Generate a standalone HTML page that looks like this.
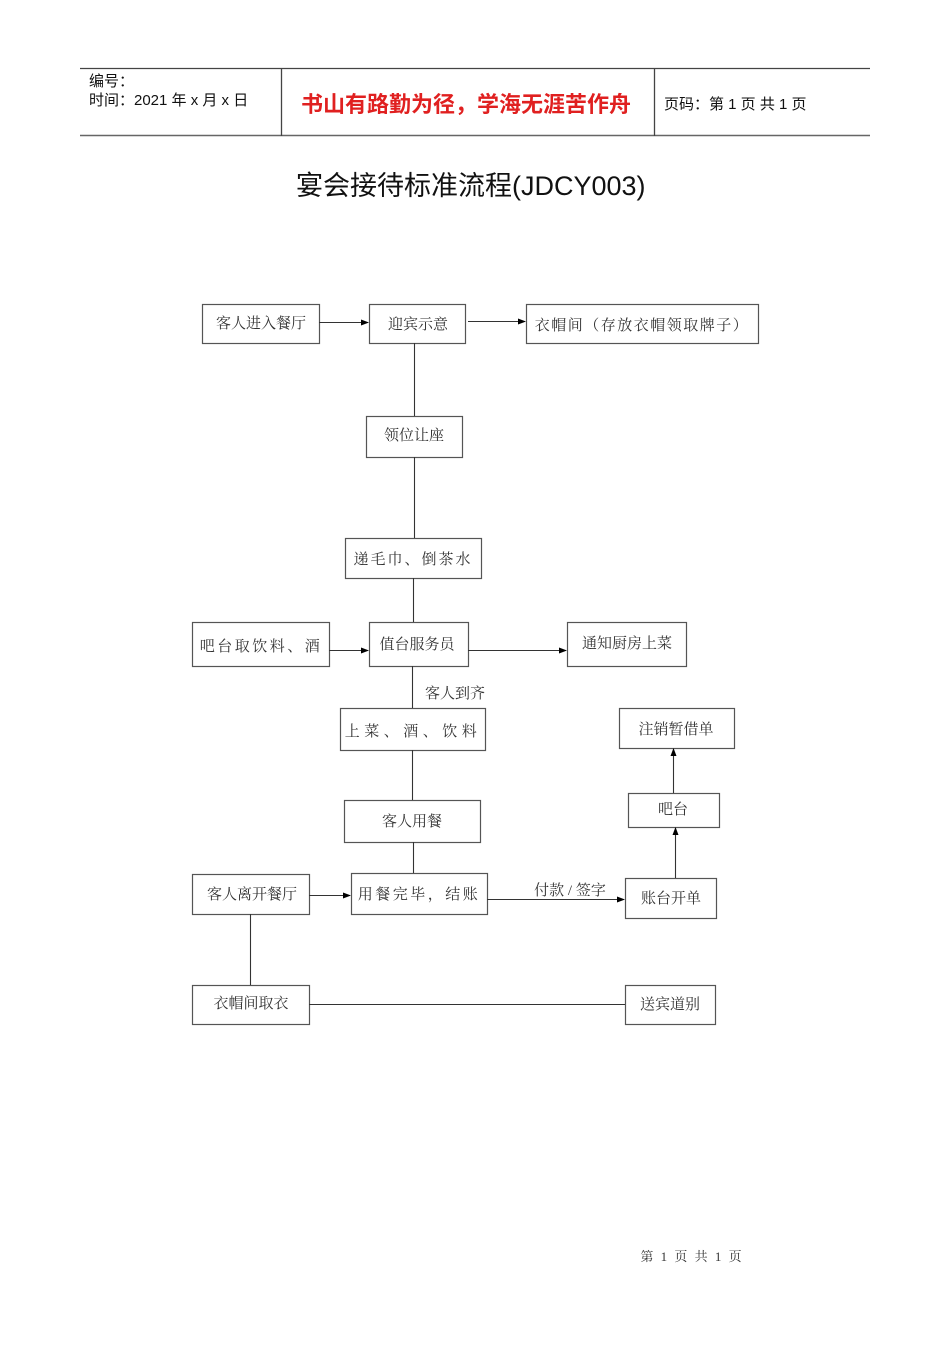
<!DOCTYPE html>
<html><head><meta charset="utf-8"><style>
body{margin:0;background:#fff;}
svg text{font-family:"Liberation Serif","Noto Serif CJK SC",serif;fill:#333;}
</style></head><body>
<svg width="950" height="1344" xmlns="http://www.w3.org/2000/svg">
<defs><marker id="a" markerWidth="8" markerHeight="8" refX="7" refY="3" orient="auto" markerUnits="userSpaceOnUse"><path d="M0,0 L8,3 L0,6z" fill="#000"/></marker></defs>
<g stroke="#444" stroke-width="1.3" fill="none">
<line x1="80" y1="68.5" x2="870" y2="68.5"/>
<line x1="80" y1="135.5" x2="870" y2="135.5" stroke="#666" stroke-width="1.5"/>
<line x1="281.5" y1="68" x2="281.5" y2="136"/>
<line x1="654.5" y1="68" x2="654.5" y2="136"/>
</g>
<g>
<text x="89" y="86" font-size="15" style="font-family:'Liberation Sans','Noto Sans CJK SC',sans-serif;fill:#111">编号：</text>
<text x="89" y="105" font-size="15" style="font-family:'Liberation Sans','Noto Sans CJK SC',sans-serif;fill:#111">时间：2021 年 x 月 x 日</text>
<text x="301" y="112" font-size="22" style="font-family:'Liberation Sans','Noto Sans CJK SC',sans-serif;fill:#e02020;font-weight:bold">书山有路勤为径，学海无涯苦作舟</text>
<text x="664" y="109" font-size="15" style="font-family:'Liberation Sans','Noto Sans CJK SC',sans-serif;fill:#111">页码：第 1 页  共 1 页</text>
<text x="296" y="195" font-size="27" style="font-family:'Liberation Sans','Noto Sans CJK SC',sans-serif;fill:#111">宴会接待标准流程(JDCY003)</text>
</g>
<g stroke="#555" stroke-width="1.2" fill="#fff">
<rect x="202.5" y="304.5" width="117" height="39"/>
<rect x="369.5" y="304.5" width="96" height="39"/>
<rect x="526.5" y="304.5" width="232" height="39"/>
<rect x="366.5" y="416.5" width="96" height="41"/>
<rect x="345.5" y="538.5" width="136" height="40"/>
<rect x="192.5" y="622.5" width="137" height="44"/>
<rect x="369.5" y="622.5" width="99" height="44"/>
<rect x="567.5" y="622.5" width="119" height="44"/>
<rect x="340.5" y="708.5" width="145" height="42"/>
<rect x="619.5" y="708.5" width="115" height="40"/>
<rect x="344.5" y="800.5" width="136" height="42"/>
<rect x="628.5" y="793.5" width="91" height="34"/>
<rect x="192.5" y="874.5" width="117" height="40"/>
<rect x="351.5" y="873.5" width="136" height="41"/>
<rect x="625.5" y="878.5" width="91" height="40"/>
<rect x="192.5" y="985.5" width="117" height="39"/>
<rect x="625.5" y="985.5" width="90" height="39"/>
</g>
<g stroke="#333" stroke-width="1.1" fill="none">
<line x1="319" y1="322.5" x2="368" y2="322.5" marker-end="url(#a)"/>
<line x1="468" y1="321.5" x2="525" y2="321.5" marker-end="url(#a)"/>
<line x1="414.5" y1="343" x2="414.5" y2="416"/>
<line x1="414.5" y1="457" x2="414.5" y2="538"/>
<line x1="413.5" y1="578" x2="413.5" y2="622"/>
<line x1="412.5" y1="666" x2="412.5" y2="708"/>
<line x1="412.5" y1="750" x2="412.5" y2="800"/>
<line x1="413.5" y1="842" x2="413.5" y2="873"/>
<line x1="329" y1="650.5" x2="368" y2="650.5" marker-end="url(#a)"/>
<line x1="468" y1="650.5" x2="566" y2="650.5" marker-end="url(#a)"/>
<line x1="309" y1="895.5" x2="350" y2="895.5" marker-end="url(#a)"/>
<line x1="487" y1="899.5" x2="624" y2="899.5" marker-end="url(#a)"/>
<line x1="675.5" y1="878" x2="675.5" y2="828" marker-end="url(#a)"/>
<line x1="673.5" y1="793" x2="673.5" y2="749" marker-end="url(#a)"/>
<line x1="250.5" y1="914" x2="250.5" y2="985"/>
<line x1="309" y1="1004.5" x2="625" y2="1004.5"/>
</g>
<g font-size="15" text-anchor="middle">
<text x="261" y="328">客人进入餐厅</text>
<text x="418" y="329">迎宾示意</text>
<text x="642" y="330" letter-spacing="1.5">衣帽间（存放衣帽领取牌子）</text>
<text x="414" y="440">领位让座</text>
<text x="413" y="564" letter-spacing="2">递毛巾、倒茶水</text>
<text x="261" y="651" letter-spacing="2.5">吧台取饮料、酒</text>
<text x="417" y="649">值台服务员</text>
<text x="627" y="648">通知厨房上菜</text>
<text x="455" y="698">客人到齐</text>
<text x="413" y="736" letter-spacing="4.5">上菜、酒、饮料</text>
<text x="676" y="734">注销暂借单</text>
<text x="412" y="826">客人用餐</text>
<text x="673" y="814">吧台</text>
<text x="252" y="899">客人离开餐厅</text>
<text x="419" y="899" letter-spacing="2.5">用餐完毕，结账</text>
<text x="570" y="895">付款 / 签字</text>
<text x="671" y="903">账台开单</text>
<text x="251" y="1008">衣帽间取衣</text>
<text x="670" y="1009">送宾道别</text>
</g>
<text x="692" y="1261" font-size="13" text-anchor="middle" letter-spacing="2">第 1 页 共 1 页</text>
</svg>
</body></html>
